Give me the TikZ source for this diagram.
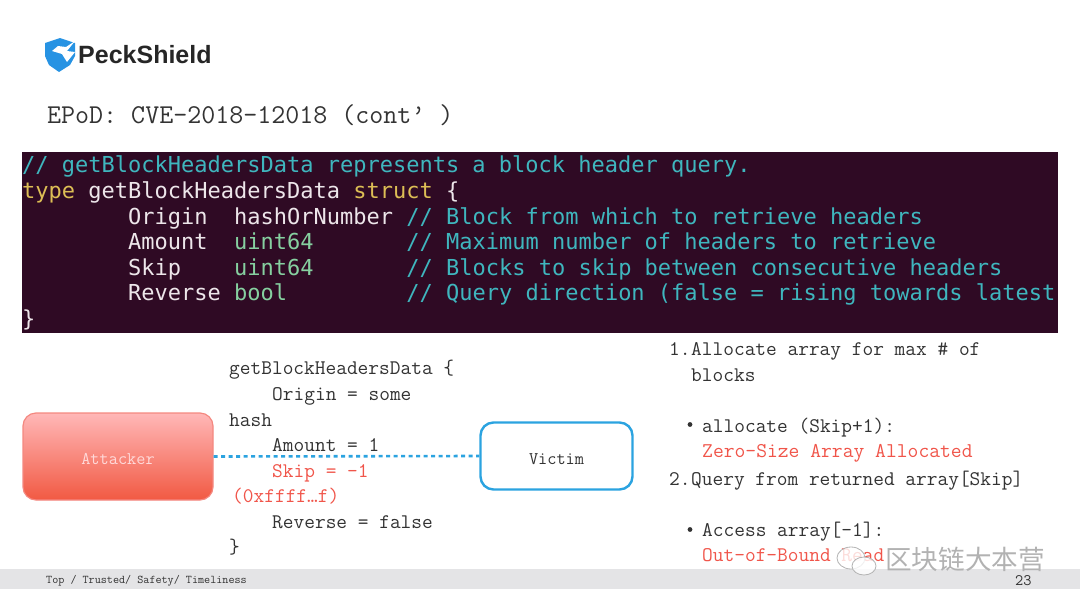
\documentclass[tikz,border=0pt]{standalone}
\usepackage{fontspec}
\usepackage{xcolor}
\setsansfont{Liberation Sans}
\newfontfamily\codefont{DejaVu Sans Mono}
\newfontfamily\cjkfont{Noto Sans CJK SC}
\definecolor{termbg}{HTML}{2F0A24}
\definecolor{termcomment}{HTML}{3FB6BE}
\definecolor{termkey}{HTML}{DDBE55}
\definecolor{termtype}{HTML}{86D0A0}
\definecolor{termtext}{HTML}{EDE6EA}
\definecolor{slidered}{HTML}{F0554A}
\definecolor{slideink}{HTML}{333333}
\definecolor{slideblue}{HTML}{2BA3E0}
\definecolor{bandgray}{HTML}{E4E4E6}
\tikzset{
    termline/.style={anchor=base west,inner sep=0pt,text=termtext,font=\codefont\fontsize{22}{26}\selectfont},
    slideline/.style={anchor=base west,inner sep=0pt,text=slideink,font=\ttfamily\fontsize{20.8}{24}\selectfont},
    redline/.style={slideline,text=slidered},
    boxlabel/.style={font=\ttfamily\fontsize{17.8}{20}\selectfont,text height=16pt,text depth=0pt},
}
\newcommand{\cmt}[1]{\textcolor{termcomment}{#1}}
\newcommand{\kw}[1]{\textcolor{termkey}{#1}}
\newcommand{\typ}[1]{\textcolor{termtype}{#1}}
\begin{document}
\begin{tikzpicture}[x=1pt,y=-1pt]
    \useasboundingbox (0,0) rectangle (1080,608);
    % logo
    \fill[slideblue!90!blue] (45,43)--(60,38)--(75,43)--(75,56)--(70,65)--(59,72)--(49,65)--(45,56)--cycle;
    \fill[white] (75,41)--(66,47)--(58,46)--(52,51)--(62,54)--(67,62)--(75,52)--(67,51)--cycle;
    \node[anchor=base west,inner sep=0pt,font=\sffamily\bfseries\fontsize{25}{30}\selectfont,text=black!85] (logo) at (78,63) {PeckShield};
    % title
    \node[slideline,font=\ttfamily\fontsize{27.2}{30}\selectfont] (title) at (47,123) {EPoD: CVE-2018-12018 (cont’ )};
    % terminal
    \fill[termbg] (22,152)rectangle(1058,333);
    \node[termline] (term1) at (22,172) {\cmt{// getBlockHeadersData represents a block header query.}};
    \node[termline] (term2) at (22,198) {\kw{type} getBlockHeadersData \kw{struct} \{};
    \node[termline] (term3) at (128,224) {Origin~~hashOrNumber \cmt{// Block from which to retrieve headers}};
    \node[termline] (term4) at (128,249) {Amount~~\typ{uint64}~~~~~~~\cmt{// Maximum number of headers to retrieve}};
    \node[termline] (term5) at (128,275) {Skip~~~~\typ{uint64}~~~~~~~\cmt{// Blocks to skip between consecutive headers}};
    \node[termline] (term6) at (128,300) {Reverse \typ{bool}~~~~~~~~~\cmt{// Query direction (false = rising towards latest}};
    \node[termline] (term7) at (22,326) {\}};
    % footer
    \fill[bandgray] (0,569)rectangle(1080,589);
    \node[anchor=base west,inner sep=0pt,text=slideink,font=\ttfamily\fontsize{11.8}{13}\selectfont] (foot) at (46,583) {Top / Trusted/ Safety/ Timeliness};
    \node[anchor=base west,inner sep=0pt,text=slideink,font=\ttfamily\fontsize{16}{18}\selectfont] (page) at (1015,585.5) {23};
    % request
    \node[slideline] (req1) at (229,374) {getBlockHeadersData \{};
    \node[slideline] (req2) at (272,400) {Origin = some};
    \node[slideline] (req3) at (229,426) {hash};
    \node[slideline] (req4) at (272,451) {Amount = 1};
    \node[redline] (req5) at (272,477) {Skip = -1};
    \node[redline] (req6) at (232,502) {(0xffff…f)};
    \node[slideline] (req7) at (272,528) {Reverse = false};
    \node[slideline] (req8) at (229,553) {\}};
    % boxes
    \node[draw=slidered!70,line width=1.2pt,rounded corners=13pt,top color=red!28,bottom color=slidered!90!orange,minimum width=190pt,minimum height=87pt,text=white!85!red,boxlabel] (attacker) at (118,456.5) {Attacker};
    \node[draw=slideblue,line width=2.4pt,rounded corners=13pt,fill=white,minimum width=152pt,minimum height=67pt,text=slideink,boxlabel] (victim) at (556.5,456) {Victim};
    \draw[slideblue,line width=2.6pt,dash pattern=on 4pt off 3.5pt] (attacker.east)--(victim.west);
    % steps
    \node[slideline] (num1) at (669,355) {1.};
    \node[slideline] (step1) at (691,355) {Allocate array for max \# of};
    \node[slideline] (step1b) at (691,381) {blocks};
    \fill[slideink] (690,424.5) circle (2.4);
    \node[slideline] (sub1) at (702,432) {allocate (Skip+1):};
    \node[redline,font=\ttfamily\fontsize{21}{24}\selectfont] (sub1b) at (702,457) {Zero-Size Array Allocated};
    \node[slideline] (num2) at (669,485) {2.};
    \node[slideline] (step2) at (691,485) {Query from returned array[Skip]};
    \fill[slideink] (690,529.5) circle (2.4);
    \node[slideline] (sub2) at (702,536) {Access array[-1]:};
    \node[redline] (sub2b) at (702,561) {Out-of-Bound Read};
    % watermark
    \draw[gray!60,line width=0.8pt,fill=white,fill opacity=0.8] (851,558) ellipse (14 and 11);
    \draw[gray!60,line width=0.8pt,fill=white,fill opacity=0.8] (864,566) ellipse (12 and 9);
    \node[anchor=base west,inner sep=0pt,text=gray!60,font=\cjkfont\fontsize{26.6}{28}\selectfont] (mark) at (885,569) {区块链大本营};
\end{tikzpicture}
\end{document}
